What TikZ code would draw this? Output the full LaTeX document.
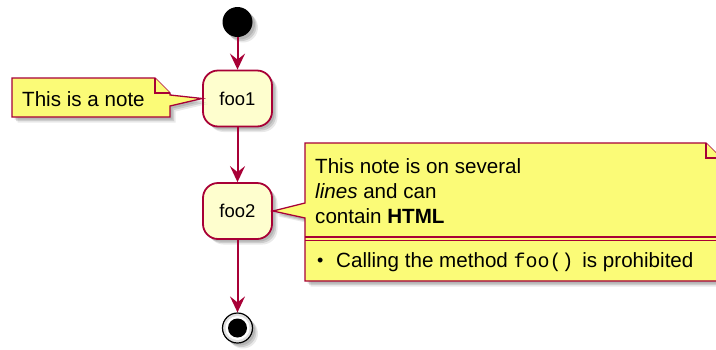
\documentclass[tikz,border=0pt]{standalone}
\usepackage{fontspec}
\setmainfont{Liberation Sans}
\setmonofont[Scale=0.97]{Liberation Mono}
\usetikzlibrary{arrows.meta,shadows}
\definecolor{plborder}{HTML}{A80036}
\definecolor{plnote}{HTML}{FBFB77}
\definecolor{plact}{HTML}{FEFECE}
\begin{document}
\begin{tikzpicture}[x=1pt,y=-1pt,
  shad/.style={
    drop shadow={shadow xshift=2.5pt,shadow yshift=-2.5pt,opacity=0.18,fill=black!70},
    drop shadow={shadow xshift=4pt,shadow yshift=-4pt,opacity=0.18,fill=black!70},
    drop shadow={shadow xshift=5.5pt,shadow yshift=-5.5pt,opacity=0.12,fill=black!70}},
  conn/.style={draw=plborder,line width=2pt,-{Stealth[length=16pt,width=15pt,inset=6pt]}},
  act/.style={draw=plborder,fill=plact,line width=1.8pt,rounded corners=15pt,
    minimum width=69pt,minimum height=56pt,inner sep=0pt,shad,
    font=\fontsize{18.5}{22}\selectfont},
  notebody/.style={draw=plborder,fill=plnote,line width=1.3pt,line join=miter},
  notetext/.style={anchor=base west,inner sep=0pt,font=\fontsize{20.6}{25}\selectfont}
]
\useasboundingbox (0,0) rectangle (716,349);
\clip (0,0) rectangle (716,349);

% start and activities
\node[circle,fill=black,minimum size=30pt,inner sep=0pt,shad] (start) at (237.5,22) {};
\node[act] (foo1) at (237.5,98.5) {foo1};
\node[act] (foo2) at (237.5,211) {foo2};
\node[circle,draw=black,fill=black!12,line width=1.2pt,minimum size=30pt,inner sep=0pt,shad] (end) at (237.5,328) {};
\node[circle,fill=white,minimum size=24pt,inner sep=0pt] (endring) at (end) {};
\node[circle,fill=black,minimum size=19pt,inner sep=0pt] (endin) at (end) {};

% connectors
\draw[conn] (start) -- (foo1);
\draw[conn] (foo1) -- (foo2);
\draw[conn] (foo2) -- (end);

% note 1
\filldraw[notebody,shad] (12,78) -- (155,78) -- (170,93) -- (170,95) -- (foo1.west)
  -- (170,106) -- (170,117) -- (12,117) -- cycle;
\filldraw[notebody] (155,78) -- (155,93) -- (170,93);
\node[notetext] (n1) at (22,106) {This is a note};

% note 2
\filldraw[notebody,shad] (305,143) -- (706,143) -- (721,158) -- (721,281) -- (305,281)
  -- (305,218) -- (foo2.east) -- (305,203) -- cycle;
\filldraw[notebody] (706,143) -- (706,158) -- (721,158);
\draw[plborder,line width=1.3pt] (305,237) -- (721,237) (305,240.5) -- (721,240.5);
\node[notetext] (l1) at (315,173) {This note is on several};
\node[notetext] (l2) at (315,198) {\textit{lines} and can};
\node[notetext] (l3) at (315,223) {contain \textbf{HTML}};
\node[notetext] (l4) at (317,267) {\makebox[19pt][l]{\raisebox{1pt}{\fontsize{18}{18}\selectfont\textbullet}}Calling the method \texttt{foo()}\hspace{3pt} is prohibited};
\end{tikzpicture}
\end{document}
